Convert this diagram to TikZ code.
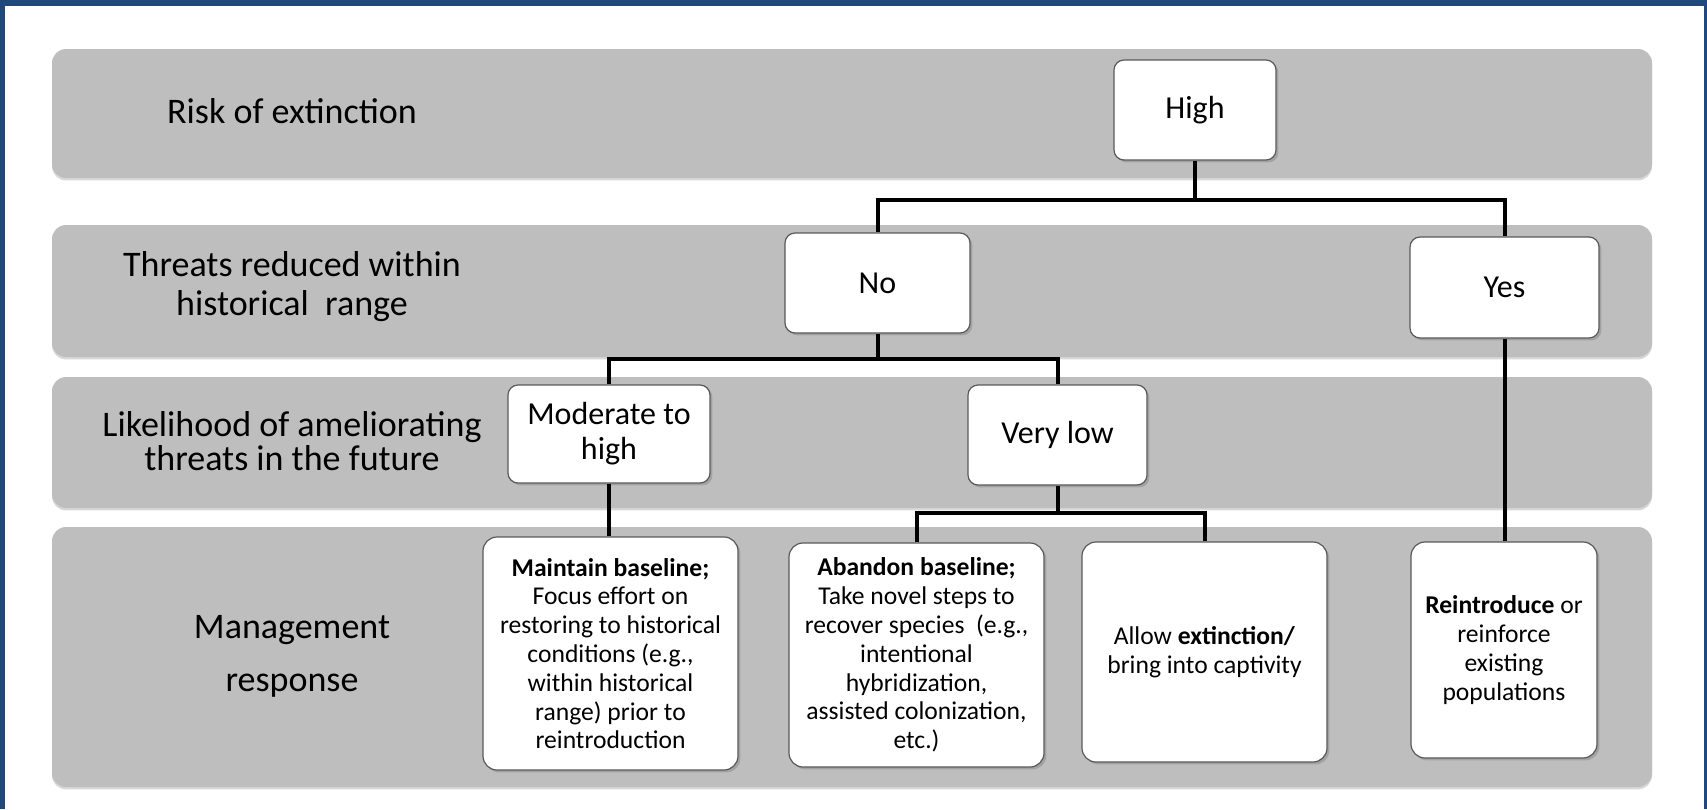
\documentclass[tikz,border=0pt]{standalone}
\usepackage{fontspec}
\setmainfont{Carlito}
\usetikzlibrary{shadows}
\definecolor{frameblue}{RGB}{31,73,125}
\definecolor{bandgray}{RGB}{190,190,190}
\tikzset{
  band/.style={fill=bandgray, rounded corners=7pt,
    drop shadow={shadow xshift=0pt, shadow yshift=-1.2pt, opacity=0.3}},
  rowlabel/.style={align=center, inner sep=0pt, font=\fontsize{18}{19.5}\selectfont},
  lvlbox/.style={rectangle, rounded corners=5pt, fill=white, draw=black!65, line width=0.6pt,
    align=center, inner sep=2pt, font=\fontsize{16}{17.5}\selectfont,
    drop shadow={shadow xshift=1.2pt, shadow yshift=-1.2pt, opacity=0.45}},
  resbox/.style={lvlbox, rounded corners=7pt, font=\fontsize{12.8}{14.4}\selectfont},
  link/.style={line width=2pt, black}
}
\begin{document}
\begin{tikzpicture}[x=0.5pt, y=-0.5pt]
    \useasboundingbox (0,0) rectangle (1707,809);
    % Frame
    \fill[frameblue] (0,0) rectangle (1707,809);
    \fill[white] (5,6) rectangle (1704,809);
    % Bands
    \fill[band] (52,49) rectangle (1652,178);
    \fill[band] (52,225) rectangle (1652,357);
    \fill[band] (52,377) rectangle (1652,508);
    \fill[band] (52,527) rectangle (1652,787);
    % Row labels
    \node[rowlabel] (lblrisk) at (292,111) {Risk of extinction};
    \node[rowlabel, font=\fontsize{18}{19.5}\selectfont] (lblthreat) at (292,287) {Threats reduced within\\historical\ \ range};
    \node[rowlabel, font=\fontsize{18}{17}\selectfont] (lbllikely) at (292,441) {Likelihood of ameliorating\\threats in the future};
    \node[rowlabel, font=\fontsize{18}{26.5}\selectfont] (lblmanage) at (292,656) {Management\\response};
    % Decision boxes
    \node[lvlbox, minimum width=81pt, minimum height=50pt] (high) at (1195,110) {High};
    \node[lvlbox, minimum width=92.5pt, minimum height=50pt] (no) at (877.5,283) {No};
    \node[lvlbox, minimum width=94.5pt, minimum height=50.5pt] (yes) at (1504.5,287.5) {Yes};
    \node[lvlbox, minimum width=101pt, minimum height=49pt] (moderate) at (609,434) {Moderate to\\high};
    \node[lvlbox, minimum width=89.5pt, minimum height=50pt] (verylow) at (1057.5,435) {Very low};
    % Response boxes
    \node[resbox, minimum width=127.5pt, minimum height=116.5pt] (maintain) at (610.5,653.5)
      {\textbf{Maintain baseline;}\\Focus effort on\\restoring to historical\\conditions (e.g.,\\within historical\\range) prior to\\reintroduction};
    \node[resbox, minimum width=127.5pt, minimum height=112pt] (abandon) at (916.5,655)
      {\textbf{Abandon baseline;}\\Take novel steps to\\recover species\ \ (e.g.,\\intentional\\hybridization,\\assisted colonization,\\etc.)};
    \node[resbox, minimum width=122.5pt, minimum height=110pt] (allow) at (1204.5,652)
      {Allow \textbf{extinction/}\\bring into captivity};
    \node[resbox, minimum width=93pt, minimum height=108pt] (reintro) at (1504,650)
      {\textbf{Reintroduce} or\\reinforce\\existing\\populations};
    % Connectors
    \coordinate (jhigh) at (1195,200);
    \coordinate (jno) at (877.5,359);
    \coordinate (jlow) at (1057.5,513);
    \draw[link] (high.south) -- (jhigh);
    \draw[link] (jhigh) -| (no.north);
    \draw[link] (jhigh) -| (yes.north);
    \draw[link] (no.south) -- (jno);
    \draw[link] (jno) -| (moderate.north);
    \draw[link] (jno) -| (verylow.north);
    \draw[link] (verylow.south) -- (jlow);
    \draw[link] (jlow) -| (abandon.north);
    \draw[link] (jlow) -| (allow.north);
    \draw[link] (moderate.south) -- (moderate.south |- maintain.north);
    \draw[link] (yes.south) -- (yes.south |- reintro.north);
\end{tikzpicture}
\end{document}
